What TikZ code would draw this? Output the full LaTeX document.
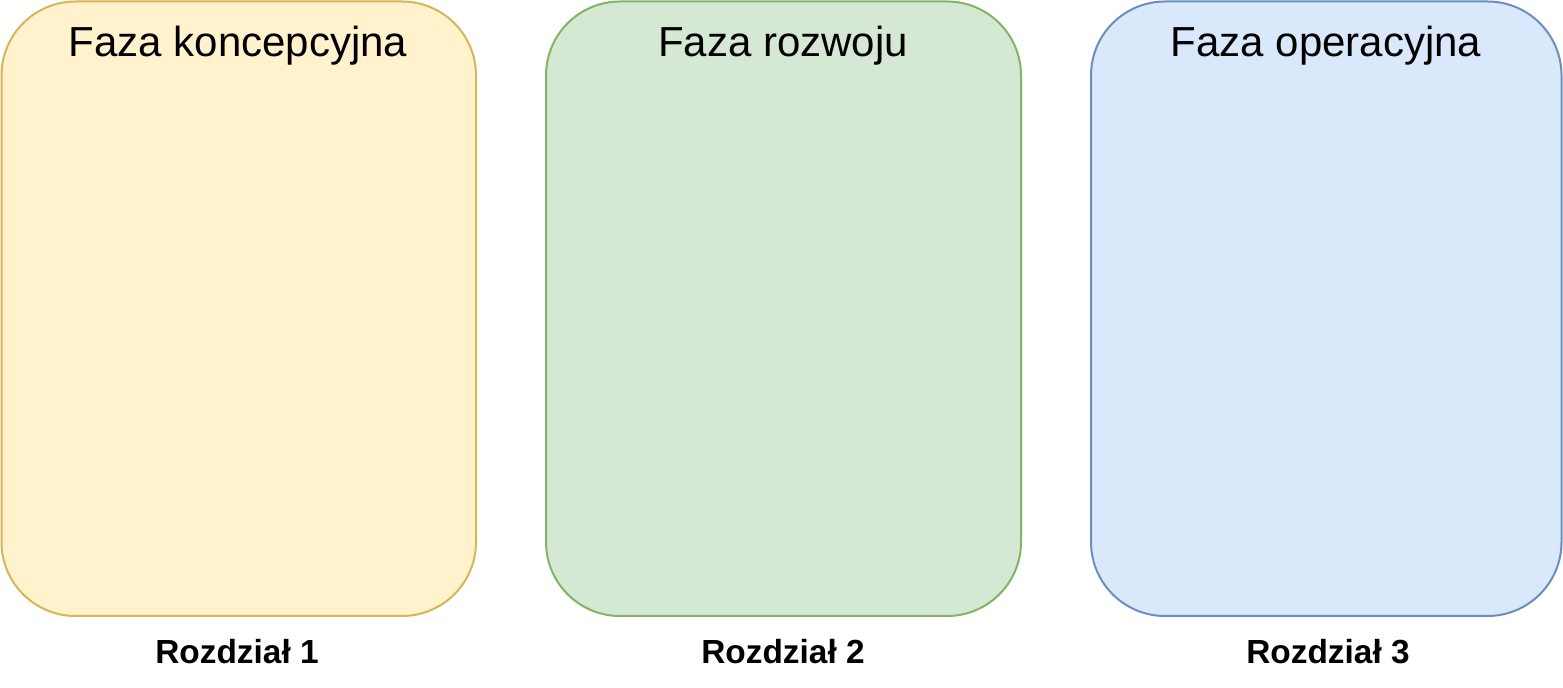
\documentclass[tikz,border=0pt]{standalone}
\usepackage{fontspec}
\setmainfont{Liberation Sans}
\definecolor{yfill}{HTML}{FFF2CC}\definecolor{ydraw}{HTML}{D6B656}
\definecolor{gfill}{HTML}{D5E8D4}\definecolor{gdraw}{HTML}{82B366}
\definecolor{bfill}{HTML}{DAE8FC}\definecolor{bdraw}{HTML}{6C8EBF}
\begin{document}
\begin{tikzpicture}[x=0.5pt,y=-0.5pt,
  phase/.style={rounded corners=37pt,line width=1pt},
  title/.style={font=\fontsize{21}{25}\selectfont,anchor=center,inner sep=0pt},
  chap/.style={font=\fontsize{16.7}{20}\selectfont\bfseries,anchor=center,inner sep=0pt}]
\useasboundingbox (0,0) rectangle (1563,688);
\path[phase,fill=yfill,draw=ydraw] (1.5,1.5) rectangle (476,616);
\path[phase,fill=gfill,draw=gdraw] (546,1.5) rectangle (1021,616);
\path[phase,fill=bfill,draw=bdraw] (1091,1.5) rectangle (1561.5,616);
\node[title] (t1) at (238,46) {Faza koncepcyjna};
\node[title] (t2) at (783,46) {Faza rozwoju};
\node[title] (t3) at (1326,46) {Faza operacyjna};
\node[chap] (c1) at (237,652) {Rozdział 1};
\node[chap] (c2) at (783,652) {Rozdział 2};
\node[chap] (c3) at (1328,652) {Rozdział 3};
\end{tikzpicture}
\end{document}
